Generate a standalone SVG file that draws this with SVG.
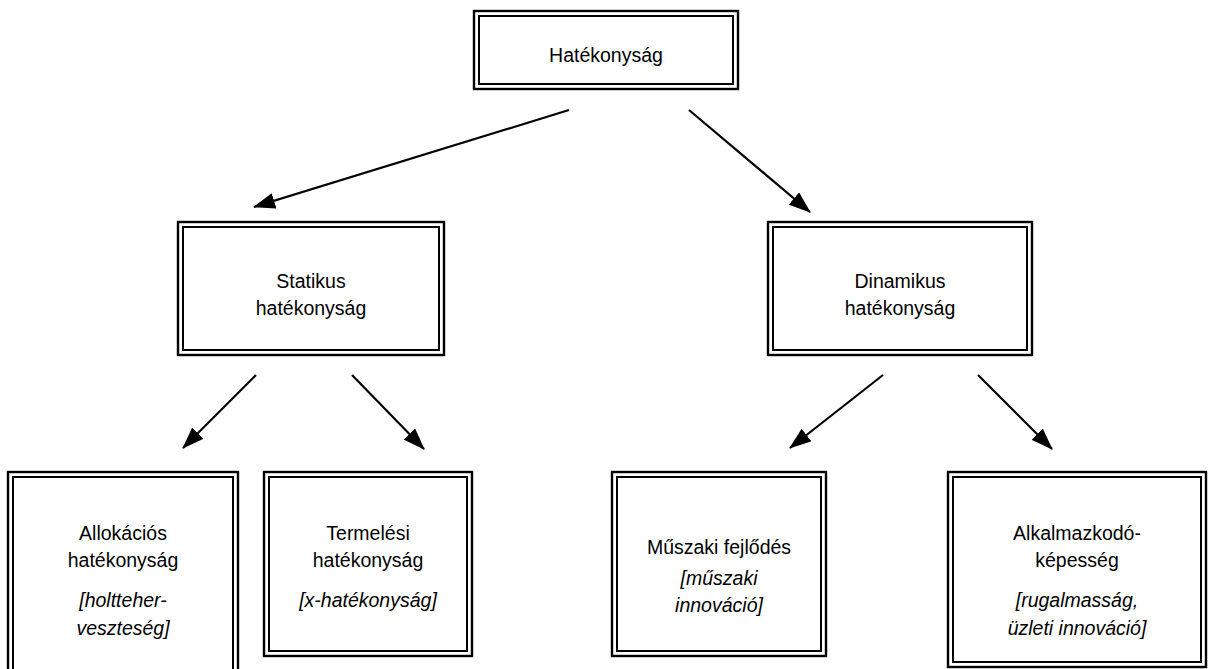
<svg xmlns="http://www.w3.org/2000/svg" width="1212" height="669" viewBox="0 0 1212 669">
  <style>
    .outer { fill: #fff; stroke: #000; stroke-width: 2.4; }
    .inner { fill: none; stroke: #000; stroke-width: 2; }
    .lbl { font-family: "Liberation Sans", Arial, sans-serif; font-size: 19.5px; fill: #000; text-anchor: middle; }
    .it { font-style: italic; }
    .conn { stroke: #000; stroke-width: 2.2; fill: none; marker-end: url(#head); }
  </style>
  <defs>
    <marker id="head" viewBox="0 0 22 16" refX="21" refY="8" markerWidth="22" markerHeight="16" markerUnits="userSpaceOnUse" orient="auto">
      <path d="M0,0 L22,8 L0,16 Z" fill="#000"/>
    </marker>
  </defs>
  <rect width="1212" height="669" fill="#fff"/>

  <g id="connectors">
    <line class="conn" x1="569" y1="110" x2="254" y2="207"/>
    <line class="conn" x1="689" y1="110" x2="810" y2="212"/>
    <line class="conn" x1="256" y1="375" x2="183" y2="448"/>
    <line class="conn" x1="352" y1="375" x2="424" y2="449"/>
    <line class="conn" x1="883" y1="375" x2="790" y2="448"/>
    <line class="conn" x1="978" y1="375" x2="1052" y2="449"/>
  </g>

  <g id="hatekonysag">
    <rect class="outer" x="474" y="11" width="264" height="78"/>
    <rect class="inner" x="479" y="16" width="254" height="68"/>
    <text class="lbl" x="606" y="62">Hatékonyság</text>
  </g>

  <g id="statikus">
    <rect class="outer" x="178" y="222" width="266" height="133"/>
    <rect class="inner" x="183" y="227" width="256" height="123"/>
    <text class="lbl" x="311" y="288">Statikus</text>
    <text class="lbl" x="311" y="315">hatékonyság</text>
  </g>

  <g id="dinamikus">
    <rect class="outer" x="768" y="222" width="264" height="133"/>
    <rect class="inner" x="773" y="227" width="254" height="123"/>
    <text class="lbl" x="900" y="288">Dinamikus</text>
    <text class="lbl" x="900" y="315">hatékonyság</text>
  </g>

  <g id="allokacios">
    <rect class="outer" x="8" y="472" width="230" height="210"/>
    <rect class="inner" x="13" y="477" width="220" height="200"/>
    <text class="lbl" x="123" y="540">Allokációs</text>
    <text class="lbl" x="123" y="567">hatékonyság</text>
    <text class="lbl it" x="123" y="607">[holtteher-</text>
    <text class="lbl it" x="123" y="635">veszteség]</text>
  </g>

  <g id="termelesi">
    <rect class="outer" x="264" y="472" width="208" height="184"/>
    <rect class="inner" x="269" y="477" width="198" height="174"/>
    <text class="lbl" x="368" y="540">Termelési</text>
    <text class="lbl" x="368" y="567">hatékonyság</text>
    <text class="lbl it" x="368" y="607">[x-hatékonyság]</text>
  </g>

  <g id="muszaki">
    <rect class="outer" x="612" y="472" width="214" height="184"/>
    <rect class="inner" x="617" y="477" width="204" height="174"/>
    <text class="lbl" x="719" y="554">Műszaki fejlődés</text>
    <text class="lbl it" x="719" y="585">[műszaki</text>
    <text class="lbl it" x="719" y="612">innováció]</text>
  </g>

  <g id="alkalmazkodo">
    <rect class="outer" x="948" y="472" width="258" height="195"/>
    <rect class="inner" x="953" y="477" width="248" height="185"/>
    <text class="lbl" x="1077" y="540">Alkalmazkodó-</text>
    <text class="lbl" x="1077" y="567">képesség</text>
    <text class="lbl it" x="1077" y="607">[rugalmasság,</text>
    <text class="lbl it" x="1077" y="635">üzleti innováció]</text>
  </g>
</svg>
